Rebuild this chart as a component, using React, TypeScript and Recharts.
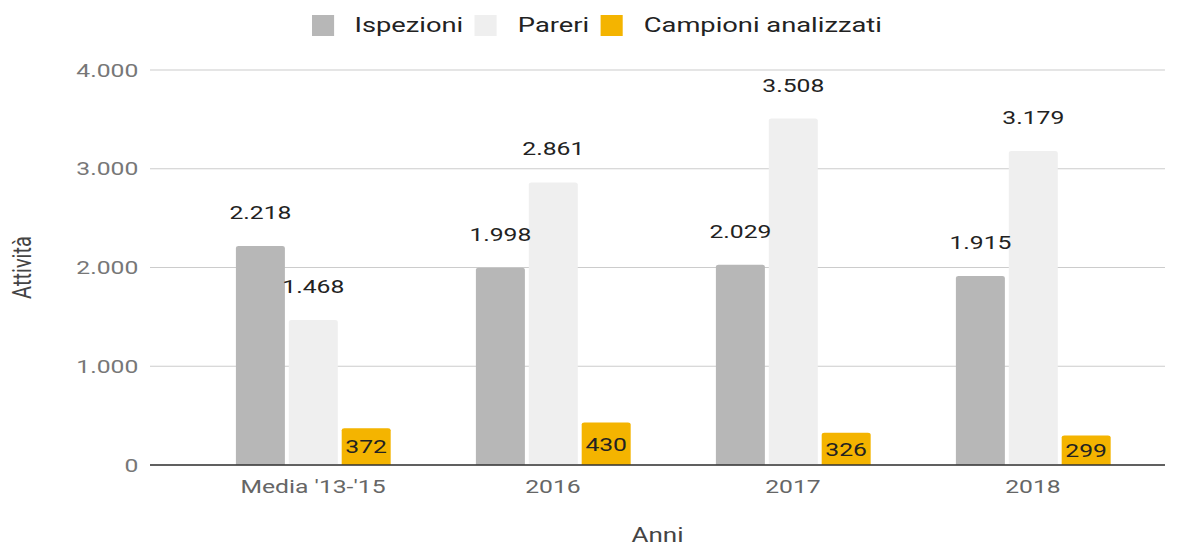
import React from 'react';
import { BarChart, Bar, XAxis, YAxis, CartesianGrid, Legend, LabelList } from 'recharts';

const categories = ["Media '13-'15", '2016', '2017', '2018'];
const ispezioni = [2218, 1998, 2029, 1915];
const pareri = [1468, 2861, 3508, 3179];
const campioni = [372, 430, 326, 299];
const yTicks = [0, 1000, 2000, 3000, 4000];
const legendOrder = ['Ispezioni', 'Pareri', 'Campioni analizzati'];

const data = categories.map((anno, i) => ({
  anno,
  ispezioni: ispezioni[i],
  pareri: pareri[i],
  campioni: campioni[i],
}));

// the source picture is stretched horizontally, so draw narrow and scale x
const W = 1187;
const H = 548;
const K = 1.3;
const CW = W / K;

const fmt = (v: number | string) => String(v).replace(/\B(?=(\d{3})+(?!\d))/g, '.');

const YTitle = (props: any) => {
  const vb = props.viewBox || { y: 70, height: 395 };
  const cx = 17;
  const cy = vb.y + vb.height / 2;
  return (
    <text
      x={cx}
      y={cy}
      transform={`rotate(-90, ${cx}, ${cy})`}
      textAnchor="middle"
      dominantBaseline="central"
      fill="#444"
      fontSize={20}
    >
      Attività
    </text>
  );
};

const LegendContent = (props: any) => {
  const items = [...(props.payload || [])].sort(
    (a: any, b: any) => legendOrder.indexOf(a.value) - legendOrder.indexOf(b.value)
  );
  return (
    <div style={{ display: 'flex', justifyContent: 'center', paddingLeft: 14 }}>
      {items.map((it: any) => (
        <div key={it.value} style={{ display: 'flex', alignItems: 'center', marginRight: 9 }}>
          <span style={{ width: 17, height: 21, background: it.color, marginRight: 16, display: 'inline-block' }} />
          <span style={{ fontSize: 21, color: '#222', lineHeight: '24px' }}>{it.value}</span>
        </div>
      ))}
    </div>
  );
};

export default function App() {
  return (
    <div style={{ position: 'absolute', left: 0, top: 0, width: W, height: H, overflow: 'hidden', background: '#fff' }}>
      <div style={{ width: CW, height: H, transform: `scaleX(${K})`, transformOrigin: '0 0', fontFamily: 'Roboto, sans-serif' }}>
        <BarChart
          width={CW}
          height={H}
          data={data}
          margin={{ top: 70, right: CW - 1165 / K, bottom: 0, left: 0 }}
          barGap={3}
          barSize={49 / K}
          style={{ fontFamily: 'Roboto, sans-serif' }}
        >
          <CartesianGrid vertical={false} stroke="#cccccc" />
          <XAxis
            dataKey="anno"
            height={83}
            padding={{ left: 43 / K, right: 12 / K }}
            tickLine={false}
            tickSize={0}
            tickMargin={15}
            axisLine={{ stroke: '#333', strokeWidth: 1.5 }}
            tick={{ fill: '#666', fontSize: 19 }}
            label={{ value: 'Anni', position: 'insideBottom', offset: 6, fill: '#444', fontSize: 20 }}
          />
          <YAxis
            width={150 / K}
            domain={[0, 4000]}
            ticks={yTicks}
            tickFormatter={fmt}
            tickLine={false}
            axisLine={false}
            tickSize={0}
            tickMargin={9}
            tick={{ fill: '#777', fontSize: 19 }}
            label={<YTitle />}
          />
          <Legend verticalAlign="middle" wrapperStyle={{ top: 13, left: 0, width: CW }} content={<LegendContent />} />
          <Bar dataKey="ispezioni" name="Ispezioni" fill="#b7b7b7" radius={[2, 2, 0, 0]} isAnimationActive={false}>
            <LabelList dataKey="ispezioni" position="top" offset={27} formatter={fmt} fill="#222" fontSize={19} />
          </Bar>
          <Bar dataKey="pareri" name="Pareri" fill="#efefef" radius={[2, 2, 0, 0]} isAnimationActive={false}>
            <LabelList dataKey="pareri" position="top" offset={27} formatter={fmt} fill="#222" fontSize={19} />
          </Bar>
          <Bar dataKey="campioni" name="Campioni analizzati" fill="#f4b400" radius={[2, 2, 0, 0]} isAnimationActive={false}>
            <LabelList dataKey="campioni" position="center" formatter={fmt} fill="#222" fontSize={19} />
          </Bar>
        </BarChart>
      </div>
    </div>
  );
}
